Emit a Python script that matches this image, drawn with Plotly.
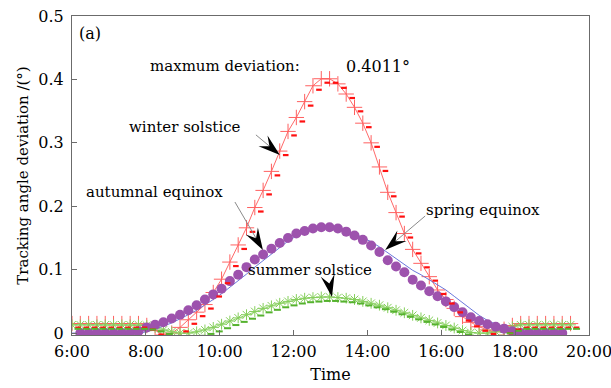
import math
import plotly.graph_objects as go

# ---------------- data ----------------
hours = [6 + 0.225 * i for i in range(61)]  # sampling times (h), 13.5-min step

winter = [0.015, 0.015, 0.015, 0.015, 0.015, 0.015, 0.015, 0.015, 0.015, 0.012,
          0.004, -0.003, 0.000, 0.009, 0.021, 0.033, 0.045, 0.064, 0.085, 0.112,
          0.139, 0.166, 0.198, 0.225, 0.255, 0.287, 0.318, 0.340, 0.365, 0.390,
          0.4011, 0.401, 0.393, 0.377, 0.356, 0.331, 0.300, 0.262, 0.222, 0.190,
          0.157, 0.132, 0.110, 0.089, 0.068, 0.053, 0.039, 0.026, 0.017, 0.010,
          0.005, 0.002, 0.006, 0.012, 0.015, 0.015, 0.015, 0.015, 0.015, 0.015, 0.015]

autumn = [None, 0.0, 0.0, 0.0, 0.0, 0.0, 0.0, 0.0, 0.003, 0.009,
          0.013, 0.017, 0.023, 0.029, 0.036, 0.044, 0.053, 0.061, 0.070, 0.082,
          0.092, 0.104, 0.116, 0.124, 0.133, 0.142, 0.150, 0.157, 0.161, 0.165,
          0.167, 0.167, 0.165, 0.160, 0.154, 0.147, 0.138, 0.128, 0.115, 0.105,
          0.096, 0.084, 0.075, 0.066, 0.058, 0.050, 0.041, 0.033, 0.025, 0.019,
          0.014, 0.010, 0.007, 0.003, 0.0, 0.0, 0.0, 0.0, 0.0, 0.0, None]

spring = [0.0, 0.0, 0.0, 0.0, 0.0, 0.0, 0.0, 0.0, 0.0, 0.002,
          0.006, 0.011, 0.016, 0.022, 0.029, 0.036, 0.044, 0.053, 0.062, 0.072,
          0.082, 0.093, 0.104, 0.114, 0.124, 0.135, 0.145, 0.153, 0.160, 0.164,
          0.166, 0.166, 0.164, 0.161, 0.157, 0.151, 0.144, 0.136, 0.127, 0.118,
          0.108, 0.099, 0.092, 0.084, 0.076, 0.068, 0.058, 0.048, 0.037, 0.028,
          0.020, 0.014, 0.010, 0.006, 0.003, 0.0, 0.0, 0.0, 0.0, 0.0, None]

summer = [0.013, 0.013, 0.013, 0.013, 0.013, 0.013, 0.013, 0.013, 0.013, 0.012,
          0.009, 0.005, 0.002, 0.000, 0.000, 0.002, 0.005, 0.009, 0.014, 0.019,
          0.024, 0.029, 0.034, 0.039, 0.043, 0.047, 0.050, 0.053, 0.055, 0.056,
          0.057, 0.057, 0.056, 0.055, 0.053, 0.050, 0.047, 0.044, 0.040, 0.036,
          0.032, 0.028, 0.024, 0.020, 0.016, 0.012, 0.008, 0.004, 0.001, 0.000,
          0.000, 0.002, 0.006, 0.010, 0.013, 0.013, 0.013, 0.013, 0.013, 0.013, 0.013]

x_tickvals = [6, 8, 10, 12, 14, 16, 18, 20]
x_ticktext = ["6:00", "8:00", "10:00", "12:00", "14:00", "16:00", "18:00", "20:00"]
y_tickvals = [0, 0.1, 0.2, 0.3, 0.4, 0.5]
y_ticktext = ["0", "0.1", "0.2", "0.3", "0.4", "0.5"]

# ---------------- styling ----------------
FONT = "DejaVu Serif, Liberation Serif, serif"
X_RANGE = [6, 20]
Y_RANGE = [-0.003, 0.5]
PX_PER_H = 517 / 14.0
PX_PER_DEG = 319 / (Y_RANGE[1] - Y_RANGE[0])
DASH_DX, DASH_DY = 6, 4   # pixel offset of the "-" companion markers

fig = go.Figure()

# red winter solstice: line + thin crosses
fig.add_trace(go.Scatter(x=hours, y=winter, mode="lines+markers",
                         line=dict(color="#ff6a6a", width=1),
                         marker=dict(symbol="cross-thin-open", size=11, color="#ff6060",
                                     line=dict(color="#ff6060", width=1)),
                         showlegend=False))
# green summer solstice
fig.add_trace(go.Scatter(x=hours, y=summer, mode="lines+markers",
                         line=dict(color="#8fd36a", width=1),
                         marker=dict(symbol="asterisk-open", size=9, color="#86cf5c",
                                     line=dict(color="#86cf5c", width=1)),
                         showlegend=False))
# blue spring equinox line
fig.add_trace(go.Scatter(x=hours, y=spring, mode="lines",
                         line=dict(color="#6a78dc", width=1),
                         showlegend=False))
# purple autumnal equinox circles
fig.add_trace(go.Scatter(x=hours, y=autumn, mode="markers",
                         marker=dict(symbol="circle", size=10, color="#9d52ad"),
                         showlegend=False))
# companion dash markers (drawn on offset overlay axes)
fig.add_trace(go.Scatter(x=hours, y=winter, mode="markers", xaxis="x2", yaxis="y2",
                         marker=dict(symbol="line-ew-open", size=4, color="#ff1010",
                                     line=dict(color="#ff1010", width=2.2)),
                         showlegend=False))
fig.add_trace(go.Scatter(x=hours, y=summer, mode="markers", xaxis="x2", yaxis="y2",
                         marker=dict(symbol="line-ew-open", size=5, color="#55b22e",
                                     line=dict(color="#55b22e", width=2)),
                         showlegend=False))

axis_common = dict(showline=True, linecolor="#6b6b6b", linewidth=1, mirror=True,
                   ticks="inside", ticklen=5, tickcolor="#6b6b6b", showgrid=False,
                   zeroline=False, automargin=False)

dx_h = DASH_DX / PX_PER_H
dy_v = DASH_DY / PX_PER_DEG

fig.update_layout(
    width=611, height=388,
    margin=dict(l=72, r=22, t=16, b=53),
    paper_bgcolor="white", plot_bgcolor="white",
    font=dict(family=FONT, color="black"),
    xaxis=dict(range=X_RANGE, tickvals=x_tickvals, ticktext=x_ticktext,
               ticklabeloverflow="allow", ticklabelstandoff=2,
               tickfont=dict(family=FONT, size=16, color="black"),
               title=dict(text="Time", font=dict(family=FONT, size=16), standoff=8),
               **axis_common),
    yaxis=dict(range=Y_RANGE, tickvals=y_tickvals, ticktext=y_ticktext,
               tickfont=dict(family=FONT, size=16, color="black"),
               title=dict(text="Tracking angle deviation /(°)",
                          font=dict(family=FONT, size=15), standoff=6),
               ticklabelstandoff=4,
               **axis_common),
    xaxis2=dict(overlaying="x", range=[X_RANGE[0] - dx_h, X_RANGE[1] - dx_h],
                visible=False),
    yaxis2=dict(overlaying="y", range=[Y_RANGE[0] + dy_v, Y_RANGE[1] + dy_v],
                visible=False),
)

# ---------------- annotations ----------------
def txt(x, y, s, size=15):
    fig.add_annotation(x=x, y=y, xref="x", yref="y", text=s, showarrow=False,
                       xanchor="left", yanchor="middle",
                       font=dict(family=FONT, size=size, color="black"))

txt(6.14, 0.473, "(a)", 16)
txt(8.06, 0.421, "maxmum deviation:")
txt(13.36, 0.421, "0.4011°", 16)
txt(7.50, 0.325, "winter solstice")
txt(6.33, 0.222, "autumnal equinox")
txt(15.54, 0.194, "spring equinox")
txt(10.72, 0.099, "summer solstice")


def pointer(t, v, tail_dx, tail_dy, gray=True, L=22, W=14):
    """Arrow drawn in pixel units anchored at the tip (t, v)."""
    n = math.hypot(tail_dx, tail_dy)
    ux, uy = -tail_dx / n, -tail_dy / n          # screen direction tail->tip
    nx, ny = -uy, ux
    pts = [(0, 0),
           (-L * ux + W / 2 * nx, -L * uy + W / 2 * ny),
           (-0.62 * L * ux, -0.62 * L * uy),
           (-L * ux - W / 2 * nx, -L * uy - W / 2 * ny)]
    path = "M" + " L".join(f"{px:.2f},{-py:.2f}" for px, py in pts) + " Z"
    if gray:
        fig.add_shape(type="line", xref="x", yref="y", xsizemode="pixel",
                      ysizemode="pixel", xanchor=t, yanchor=v,
                      x0=tail_dx, y0=-tail_dy, x1=-0.6 * L * ux, y1=0.6 * L * uy,
                      line=dict(color="#8a8a8a", width=1))
    fig.add_shape(type="path", xref="x", yref="y", xsizemode="pixel",
                  ysizemode="pixel", xanchor=t, yanchor=v, path=path,
                  fillcolor="black", line=dict(width=0))


pointer(11.63, 0.281, -24, -20)
pointer(11.17, 0.131, -28, -48)
pointer(14.48, 0.131, 40, -34)
pointer(13.04, 0.057, -4, -20, gray=False)

fig.write_html("out.html")
